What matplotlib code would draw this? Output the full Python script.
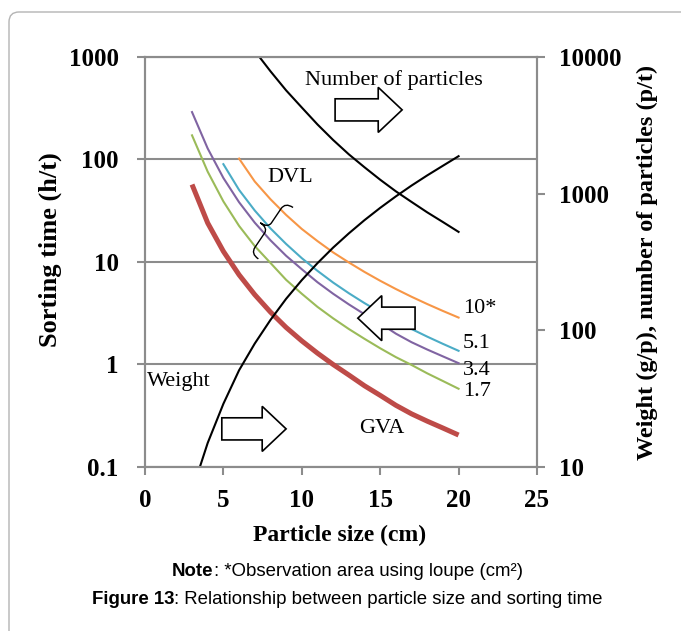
import matplotlib

matplotlib.use("Agg")
import matplotlib.pyplot as plt
from matplotlib.patches import FancyBboxPatch, PathPatch, Polygon
from matplotlib.path import Path
from matplotlib.ticker import FixedFormatter, FixedLocator, NullLocator
from matplotlib.transforms import Affine2D

plt.rcParams["font.family"] = ["Liberation Serif", "DejaVu Serif"]
plt.rcParams["font.weight"] = "bold"
plt.rcParams["axes.labelweight"] = "bold"

# sorting time (h/t) against particle size (cm)
gva_size = [3, 4, 5, 6, 7, 8, 9, 10, 11, 12, 13, 14, 15, 16, 17, 18, 19, 20]
gva_time = [57, 24, 12.7, 7.5, 4.8, 3.25, 2.3, 1.7, 1.29, 1.0, 0.79, 0.62,
            0.5, 0.4, 0.33, 0.28, 0.24, 0.205]

dvl_10_size = [6, 7, 8, 9, 10, 11, 12, 13, 14, 15, 16, 17, 18, 19, 20]
dvl_10_time = [102, 61, 41, 28.8, 21.0, 16.0, 12.4, 9.9, 8.0, 6.56, 5.45,
               4.58, 3.89, 3.33, 2.87]
dvl_51_size = [5, 6, 7, 8, 9, 10, 11, 12, 13, 14, 15, 16, 17, 18, 19, 20]
dvl_51_time = [90, 50.5, 31.8, 21.3, 15.0, 10.9, 8.2, 6.3, 4.96, 3.97, 3.23,
               2.66, 2.22, 1.87, 1.59, 1.36]
dvl_34_size = [3, 4, 5, 6, 7, 8, 9, 10, 11, 12, 13, 14, 15, 16, 17, 18, 19, 20]
dvl_34_time = [290, 128, 66, 38.3, 24.2, 16.3, 11.5, 8.5, 6.35, 4.9, 3.86,
               3.09, 2.52, 2.0, 1.65, 1.4, 1.2, 1.03]
dvl_17_size = [3, 4, 5, 6, 7, 8, 9, 10, 11, 12, 13, 14, 15, 16, 17, 18, 19, 20]
dvl_17_time = [172, 76, 39, 22.5, 14.3, 9.8, 6.7, 4.9, 3.65, 2.82, 2.22,
               1.78, 1.44, 1.18, 0.99, 0.82, 0.69, 0.58]
dvl_labels = ["10*", "5.1", "3.4", "1.7"]

# right axis: weight (g/p) and number of particles (p/t)
weight_size = [3.5, 4, 5, 6, 7, 8, 9, 10, 11, 12, 13, 14, 15, 16, 17, 18, 19, 20]
weight_val = [10, 15, 29, 51, 80, 119, 170, 233, 310, 403, 512, 640, 787,
              955, 1146, 1360, 1600, 1880]
count_size = [7.3, 8, 9, 10, 11, 12, 13, 14, 15, 16, 17, 18, 19, 20]
count_val = [10000, 7870, 5700, 4270, 3210, 2470, 1940, 1560, 1265, 1040,
             870, 730, 620, 525]

size_ticks = [0, 5, 10, 15, 20, 25]
time_ticks = [0.1, 1, 10, 100, 1000]
time_tick_labels = ["0.1", "1", "10", "100", "1000"]
right_ticks = [10, 100, 1000, 10000]
right_tick_labels = ["10", "100", "1000", "10000"]

GRAY = "#8c8c8c"
ORANGE, CYAN, PURPLE, GREEN, RED = "#f79646", "#4bacc6", "#8064a2", "#9bbb59", "#be4b48"


def block_arrow(ax, tail, tip, yc, shaft_h=0.054, head_h=0.11, head_len=0.061):
    # outlined block arrow, axes-fraction coordinates
    d = 1 if tip > tail else -1
    base = tip - d * head_len
    verts = [(tail, yc - shaft_h / 2), (base, yc - shaft_h / 2), (base, yc - head_h / 2),
             (tip, yc), (base, yc + head_h / 2), (base, yc + shaft_h / 2),
             (tail, yc + shaft_h / 2)]
    ax.add_patch(Polygon(verts, closed=True, transform=ax.transAxes, fc="white",
                         ec="black", lw=1.2, zorder=6))


fig = plt.figure(figsize=(6.81, 6.31), dpi=100)
ax = fig.add_axes([0.2129, 0.2599, 0.5756, 0.6498])
ax2 = ax.twinx()

ax.plot(gva_size, gva_time, color=RED, lw=3.6, solid_capstyle="butt")
ax.plot(dvl_10_size, dvl_10_time, color=ORANGE, lw=1.5)
ax.plot(dvl_51_size, dvl_51_time, color=CYAN, lw=1.5)
ax.plot(dvl_34_size, dvl_34_time, color=PURPLE, lw=1.5)
ax.plot(dvl_17_size, dvl_17_time, color=GREEN, lw=1.5)
ax2.plot(weight_size, weight_val, color="black", lw=1.5)
ax2.plot(count_size, count_val, color="black", lw=1.5)

ax.set_xlim(0, 25)
ax.set_yscale("log")
ax.set_ylim(0.1, 1000)
ax2.set_yscale("log")
ax2.set_ylim(10, 10000)

ax.xaxis.set_major_locator(FixedLocator(size_ticks))
ax.yaxis.set_major_locator(FixedLocator(time_ticks))
ax.yaxis.set_major_formatter(FixedFormatter(time_tick_labels))
ax.yaxis.set_minor_locator(NullLocator())
ax2.yaxis.set_major_locator(FixedLocator(right_ticks))
ax2.yaxis.set_major_formatter(FixedFormatter(right_tick_labels))
ax2.yaxis.set_minor_locator(NullLocator())

for a in (ax, ax2):
    for s in a.spines.values():
        s.set_color(GRAY)
        s.set_linewidth(1.5)
ax.tick_params(direction="out", length=6, width=1.5, color=GRAY, labelsize=18)
ax.tick_params(axis="y", pad=13)
ax.tick_params(axis="x", pad=10)
ax2.tick_params(direction="out", length=6, width=1.5, color=GRAY, labelsize=18, pad=10)

ax.yaxis.grid(True, color=GRAY, lw=1.5)
ax.set_axisbelow(True)

ax.set_ylabel("Sorting time (h/t)", fontsize=19, va="center")
ax.yaxis.set_label_coords(-0.242, 0.529)
ax.set_xlabel("Particle size (cm)", fontsize=17, va="center")
ax.xaxis.set_label_coords(0.497, -0.166)
ax2.set_ylabel("Weight (g/p), number of particles (p/t)", fontsize=17.5, va="center")
ax2.yaxis.set_label_coords(1.283, 0.5)

# annotations inside the plot
note = dict(fontsize=16, fontweight="normal")
ax.text(15.9, 598, "Number of particles", ha="center", va="center", **note)
ax.text(9.25, 66.8, "DVL", ha="center", va="center", **note)
ax.text(0.13, 0.684, "Weight", ha="left", va="center", **note)
ax.text(15.1, 0.239, "GVA", ha="center", va="center", **note)
for label, y in zip(dvl_labels, [3.5, 1.6, 0.875, 0.547]):
    ax.text(20.28, y, label, ha="left", va="center", **note)

block_arrow(ax2, 0.485, 0.656, 0.871)
block_arrow(ax2, 0.689, 0.543, 0.363)
block_arrow(ax2, 0.196, 0.360, 0.093)

# curly brace grouping the DVL curves
brace = Path(
    [(0.3, 1), (0, 1), (0, 0.75), (0, 0.2), (0, 0), (-0.3, 0),
     (0, 0), (0, -0.2), (0, -0.75), (0, -1), (0.3, -1)],
    [Path.MOVETO, Path.CURVE3, Path.CURVE3, Path.LINETO, Path.CURVE3, Path.CURVE3,
     Path.CURVE3, Path.CURVE3, Path.LINETO, Path.CURVE3, Path.CURVE3],
)
brace_tf = Affine2D().scale(0.31).rotate_deg(-34).translate(2.68, 6.31 - 2.28) + fig.dpi_scale_trans
ax2.add_patch(PathPatch(brace, transform=brace_tf, fc="none", ec="black", lw=1.0, zorder=6))

# page frame
fig.add_artist(FancyBboxPatch((0.09, -1.0), 7.5, 6.31 - 0.12 + 1.0,
                              boxstyle="round,pad=0,rounding_size=0.1",
                              transform=fig.dpi_scale_trans, fc="none",
                              ec="#b4b4b4", lw=1.0))

# caption
cap = dict(family="Liberation Sans", size=13.4, va="center", ha="left")
t1 = fig.text(172 / 681, 1 - 572 / 631, "Note", weight="bold", **cap)
ax.annotate(": *Observation area using loupe (cm²)", xy=(1, 0), xycoords=t1,
            va="bottom", ha="left", family="Liberation Sans", size=13.4,
            weight="normal", annotation_clip=False)
t2 = fig.text(92 / 681, 1 - 600 / 631, "Figure 13", weight="bold", **cap)
ax.annotate(": Relationship between particle size and sorting time", xy=(1, 0),
            xycoords=t2, va="bottom", ha="left", family="Liberation Sans", size=13.4,
            weight="normal", annotation_clip=False)

fig.savefig("out.png", dpi=100)
